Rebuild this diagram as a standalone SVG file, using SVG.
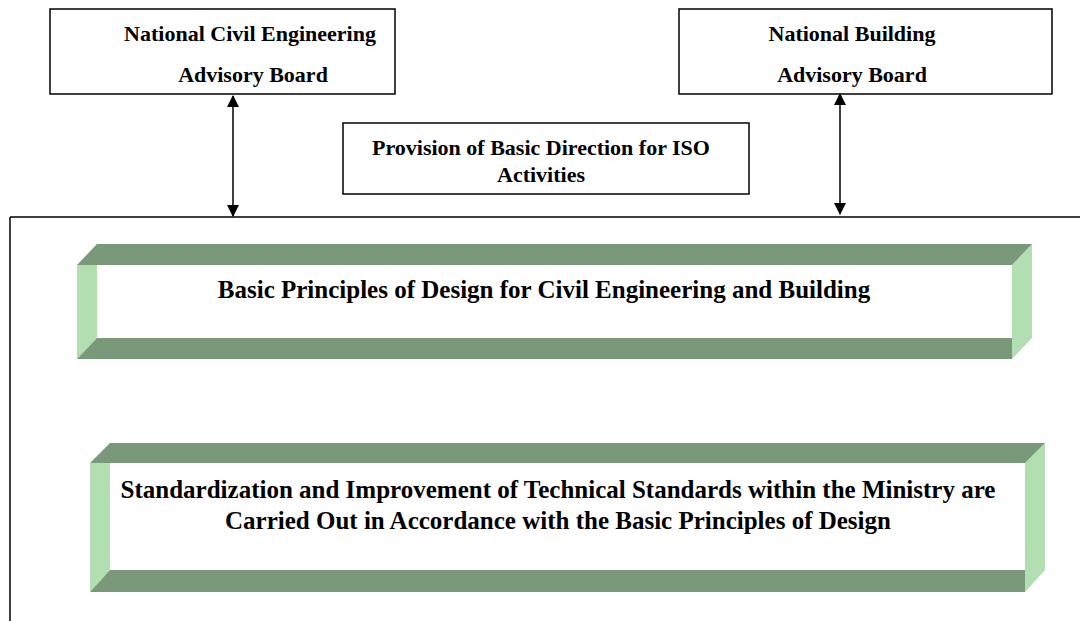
<svg xmlns="http://www.w3.org/2000/svg" width="1080" height="621" viewBox="0 0 1080 621">
<defs>
<style>
.box{fill:#fff;stroke:#000;stroke-width:1.5}
.t{font-family:"Liberation Serif","Times New Roman",serif;font-weight:bold;fill:#000;text-anchor:middle}
.s{font-size:22px}
.m{font-size:25px}
.dk{fill:#7A987A}
.lt{fill:#B1DFB1}
.ln{stroke:#000;stroke-width:1.5;fill:none}
</style>
<marker id="ah" viewBox="0 0 12 12" refX="11" refY="6" markerWidth="12" markerHeight="12" markerUnits="userSpaceOnUse" orient="auto-start-reverse">
<path d="M0,0 L12,6 L0,12 Z" fill="#000"/>
</marker>
</defs>
<rect width="1080" height="621" fill="#fff"/>
<g id="civil-board">
<rect class="box" x="50" y="9" width="345" height="85"/>
<text class="t s" x="250" y="41">National Civil Engineering</text>
<text class="t s" x="253" y="82">Advisory Board</text>
</g>
<g id="building-board">
<rect class="box" x="679" y="9" width="373" height="85"/>
<text class="t s" x="852" y="41">National Building</text>
<text class="t s" x="852" y="82">Advisory Board</text>
</g>
<g id="provision">
<rect class="box" x="343" y="123" width="406" height="71"/>
<text class="t s" x="541" y="155">Provision of Basic Direction for ISO</text>
<text class="t s" x="541" y="182">Activities</text>
</g>
<g id="ministry-frame">
<path class="ln" d="M10,217 H1080 M10,217 V621" stroke-width="2"/>
</g>
<g id="basic-principles">
<polygon class="lt" points="77,265 97,265 97,338 77,359"/>
<polygon class="lt" points="1012,265 1032,244 1032,338 1012,359"/>
<polygon class="dk" points="77,265 97,244 1032,244 1012,265"/>
<polygon class="dk" points="97,338 1012,338 1012,359 77,359"/>
<text class="t m" x="544" y="298">Basic Principles of Design for Civil Engineering and Building</text>
</g>
<g id="standardization">
<polygon class="lt" points="90,463 110,463 110,570 90,592"/>
<polygon class="lt" points="1025,463 1045,443 1045,570 1025,592"/>
<polygon class="dk" points="90,463 110,443 1045,443 1025,463"/>
<polygon class="dk" points="110,570 1025,570 1025,592 90,592"/>
<text class="t m" x="558" y="498">Standardization and Improvement of Technical Standards within the Ministry are</text>
<text class="t m" x="558" y="529">Carried Out in Accordance with the Basic Principles of Design</text>
</g>
<g id="connectors">
<line class="ln" x1="233" y1="96" x2="233" y2="216" marker-start="url(#ah)" marker-end="url(#ah)"/>
<line class="ln" x1="840" y1="94" x2="840" y2="214" marker-start="url(#ah)" marker-end="url(#ah)"/>
</g>
</svg>
